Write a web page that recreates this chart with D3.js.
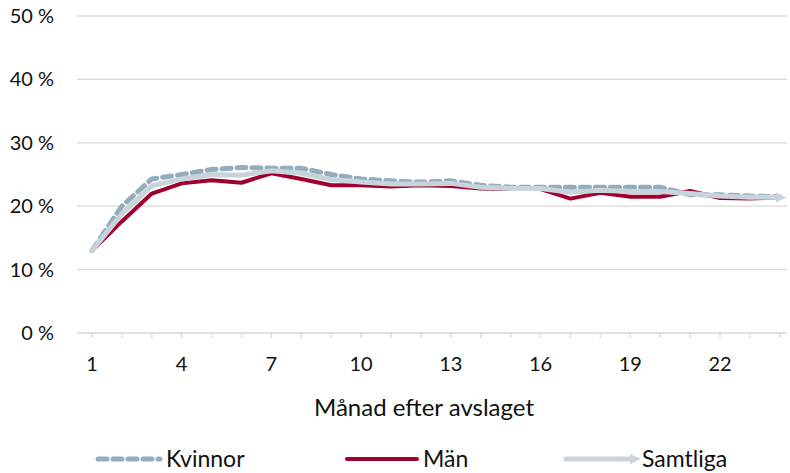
<!DOCTYPE html>
<html>
<head>
<meta charset="utf-8">
<script src="https://cdn.jsdelivr.net/npm/d3@7"></script>
<style>
  body { margin: 0; background: #fff; }
  svg text { font-family: Lato, "Open Sans", sans-serif; fill: #111; }
</style>
</head>
<body>
<div id="chart"></div>
<script>
const months = d3.range(1, 25);
const kvinnor = [13.0, 20.0, 24.3, 25.0, 25.8, 26.1, 26.0, 26.0, 25.0, 24.3, 24.0, 23.8,
  24.0, 23.3, 23.0, 23.0, 23.0, 23.0, 23.0, 23.0, 21.8, 21.8, 21.6, 21.5];
const man = [13.0, 17.6, 22.0, 23.6, 24.1, 23.7, 25.2, 24.3, 23.3, 23.3, 23.1, 23.3,
  23.2, 22.8, 22.7, 22.7, 21.2, 22.1, 21.5, 21.5, 22.4, 21.3, 21.2, 21.4];
const samtliga = [13.0, 18.8, 23.2, 24.3, 25.0, 24.9, 25.6, 25.2, 24.2, 23.8, 23.5, 23.5,
  23.6, 23.0, 22.8, 22.8, 22.2, 22.5, 22.3, 22.3, 22.0, 21.6, 21.4, 21.4];
const yTicks = [0, 10, 20, 30, 40, 50];
const xTicks = [1, 4, 7, 10, 13, 16, 19, 22];
const seriesNames = ['Kvinnor', 'Män', 'Samtliga'];

const width = 790, height = 473;
const plotLeft = 77, plotRight = 787, plotTop = 16, plotBottom = 333;

let svg = d3.select('#chart').append('svg')
  .attr('width', width)
  .attr('height', height);

let x = d3.scaleLinear().domain([0.5, 24.24]).range([plotLeft, plotRight]);
let y = d3.scaleLinear().domain([0, 50]).range([plotBottom, plotTop]);

// gridlines
svg.append('g')
  .selectAll('line')
  .data(yTicks)
  .enter()
  .append('line')
  .attr('x1', plotLeft).attr('x2', plotRight)
  .attr('y1', d => y(d)).attr('y2', d => y(d))
  .attr('stroke', '#d9d9d9')
  .attr('stroke-width', 1.3);

// y labels
svg.append('g')
  .selectAll('text')
  .data(yTicks)
  .enter()
  .append('text')
  .attr('x', 54)
  .attr('y', d => y(d))
  .attr('dy', '0.35em')
  .attr('text-anchor', 'end')
  .style('font-size', '20px')
  .text(d => d + ' %');

// x axis ticks
svg.append('g')
  .selectAll('line')
  .data(months)
  .enter()
  .append('line')
  .attr('x1', d => x(d)).attr('x2', d => x(d))
  .attr('y1', plotBottom).attr('y2', plotBottom + 5)
  .attr('stroke', '#d9d9d9')
  .attr('stroke-width', 1.3);

svg.append('g')
  .selectAll('text')
  .data(xTicks)
  .enter()
  .append('text')
  .attr('x', d => x(d))
  .attr('y', 371)
  .attr('text-anchor', 'middle')
  .style('font-size', '20px')
  .text(d => d);

svg.append('text')
  .attr('x', 424)
  .attr('y', 416)
  .attr('text-anchor', 'middle')
  .style('font-size', '24px')
  .text('Månad efter avslaget');

// arrow marker for Samtliga
let defs = svg.append('defs');
defs.append('marker')
  .attr('id', 'arrow')
  .attr('viewBox', '0 0 10 10')
  .attr('refX', 4).attr('refY', 5)
  .attr('markerWidth', 2.1).attr('markerHeight', 2.1)
  .attr('markerUnits', 'strokeWidth')
  .attr('orient', 'auto')
  .append('path')
  .attr('d', 'M0,0 L10,5 L0,10 Z')
  .attr('fill', '#c8d3dc');

let line = d3.line()
  .x((d, i) => x(months[i]))
  .y(d => y(d));

const styles = [
  { data: kvinnor, color: '#93adbf', w: 5, dash: '9 6', marker: null },
  { data: man, color: '#a0002e', w: 4, dash: null, marker: null },
  { data: samtliga, color: '#c8d3dc', w: 5, dash: null, marker: 'url(#arrow)' }
];

styles.forEach(s => {
  svg.append('path')
    .datum(s.data)
    .attr('d', line)
    .attr('fill', 'none')
    .attr('stroke', s.color)
    .attr('stroke-width', s.w)
    .attr('stroke-linecap', 'round')
    .attr('stroke-linejoin', 'round')
    .attr('stroke-dasharray', s.dash)
    .attr('marker-end', s.marker);
});

// legend
const legX = [98, 347, 566];
const legLen = [62, 70, 68];
const textX = [166, 423, 642];
let leg = svg.append('g')
  .selectAll('g')
  .data(seriesNames)
  .enter()
  .append('g')
  .attr('transform', (d, i) => `translate(${legX[i]},459)`);

leg.append('line')
  .attr('x1', 0).attr('x2', (d, i) => legLen[i])
  .attr('y1', 0).attr('y2', 0)
  .attr('stroke', (d, i) => styles[i].color)
  .attr('stroke-width', (d, i) => styles[i].w)
  .attr('stroke-linecap', 'round')
  .attr('stroke-dasharray', (d, i) => styles[i].dash)
  .attr('marker-end', (d, i) => styles[i].marker);

leg.append('text')
  .attr('x', (d, i) => textX[i] - legX[i])
  .attr('dy', '0.35em')
  .style('font-size', '23px')
  .text(d => d);
</script>
</body>
</html>
